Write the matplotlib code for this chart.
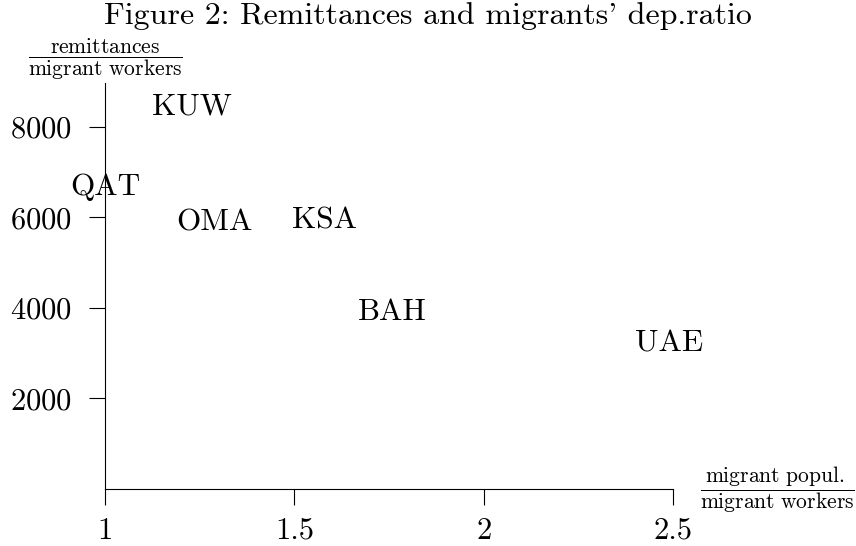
import matplotlib
matplotlib.use("Agg")
import matplotlib.pyplot as plt

plt.rcParams['font.family'] = 'serif'
plt.rcParams['font.serif'] = ['cmr10', 'DejaVu Serif']
plt.rcParams['mathtext.fontset'] = 'cm'
plt.rcParams['axes.formatter.use_mathtext'] = True

# country labels placed at (dependency ratio, remittances per worker)
countries = ['KUW', 'QAT', 'OMA', 'KSA', 'BAH', 'UAE']
dep_ratio = [1.23, 1.00, 1.29, 1.58, 1.76, 2.49]
remit = [8440, 6680, 5880, 5940, 3900, 3220]

xticks = [1, 1.5, 2, 2.5]
xtick_labels = ['1', '1.5', '2', '2.5']
yticks = [2000, 4000, 6000, 8000]

fig = plt.figure(figsize=(8.56, 5.46), dpi=100)
ax = fig.add_axes([0.1227, 0.1044, 0.7862 - 0.1227, 0.848 - 0.1044])

for name, x, y in zip(countries, dep_ratio, remit):
    ax.text(x, y, name, ha='center', va='center', fontsize=22.5, clip_on=False)

ax.set_xlim(1, 2.5)
ax.set_ylim(0, 8970)
ax.set_xticks(xticks)
ax.set_xticklabels(xtick_labels)
ax.set_yticks(yticks)

ax.spines['top'].set_visible(False)
ax.spines['right'].set_visible(False)
for s in ['left', 'bottom']:
    ax.spines[s].set_linewidth(0.8)
ax.tick_params(axis='both', direction='out', length=11.5, width=0.8,
               labelsize=22)
ax.tick_params(axis='x', pad=9)
ax.tick_params(axis='y', pad=12)

fig.text(0.5, 0.971, "Figure 2: Remittances and migrants' dep.ratio",
         ha='center', va='center', fontsize=23)
fig.text(0.1227, 0.892, r'$\dfrac{\mathrm{remittances}}{\mathrm{migrant\ workers}}$',
         ha='center', va='center', fontsize=15.5)
fig.text(0.908, 0.104, r'$\dfrac{\mathrm{migrant\ popul.}}{\mathrm{migrant\ workers}}$',
         ha='center', va='center', fontsize=15.5)

fig.savefig('out.png', dpi=100)
